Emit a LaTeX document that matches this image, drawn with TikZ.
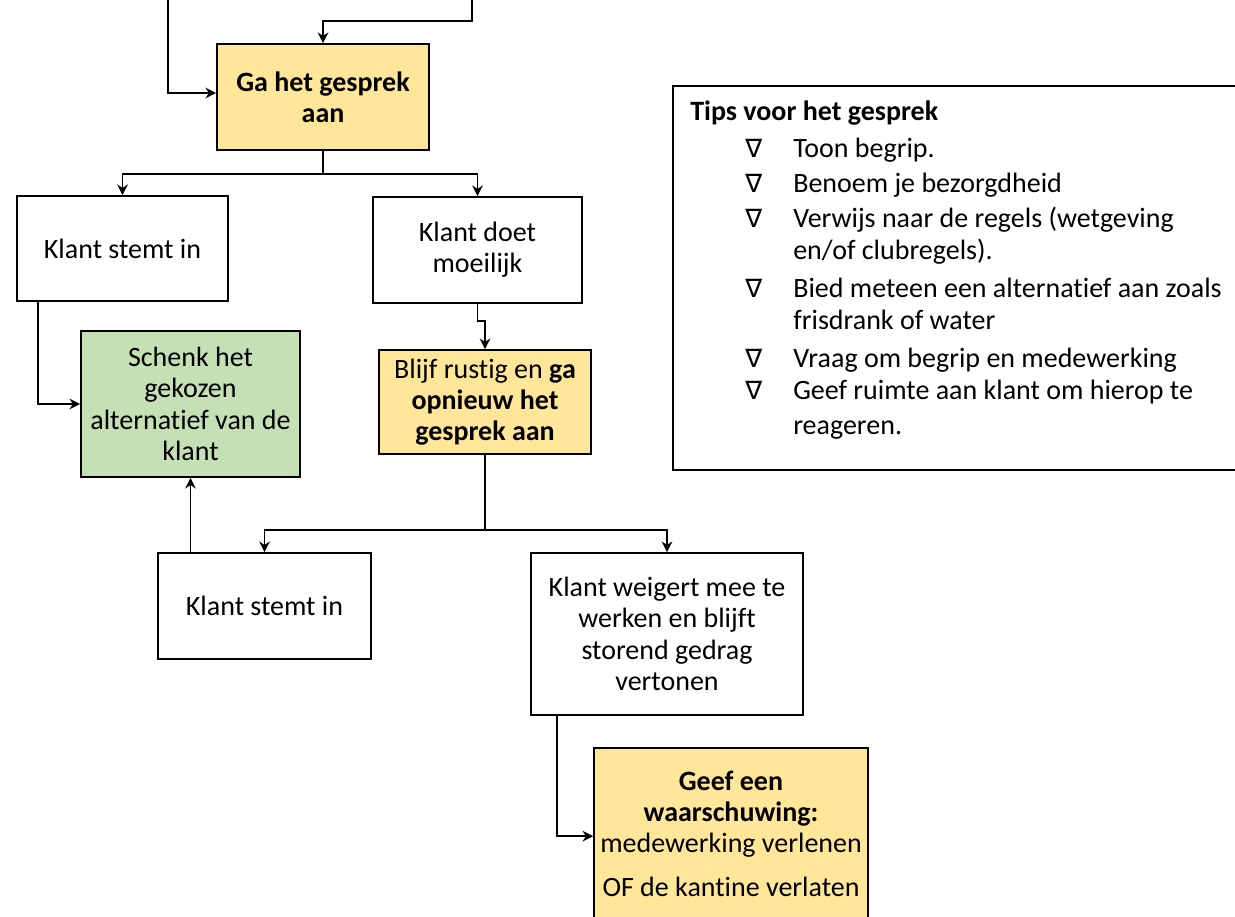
\documentclass[tikz,border=0pt]{standalone}
\usepackage{fontspec}
\setmainfont{Carlito}[Ligatures={NoCommon}]
\newfontfamily\symfont{DejaVu Sans}
\usepackage{xcolor}
\usetikzlibrary{arrows.meta}
\definecolor{stepyellow}{RGB}{255,230,153}
\definecolor{stepgreen}{RGB}{197,224,180}
\tikzset{
  stepbox/.style={draw, line width=1.25pt, align=center, inner sep=0pt, font=\fontsize{21}{23.5}\selectfont},
  flow/.style={line width=1.25pt, -{Stealth[length=8pt,width=8pt]}},
  tiptext/.style={anchor=base west, inner sep=0pt, font=\fontsize{21}{23.5}\selectfont},
}

\begin{document}
\begin{tikzpicture}[x=0.75pt, y=-0.75pt]
  \useasboundingbox (0,0) rectangle (1235,917);
  \clip (0,0) rectangle (1235,917);

  % main flow
  \node[stepbox, fill=stepyellow, minimum width=159pt, minimum height=79.5pt] (start) at (323,97) {\textbf{Ga het gesprek}\\\textbf{aan}};
  \node[stepbox, minimum width=158.25pt, minimum height=78.75pt] (agree1) at (122.5,248.5) {Klant stemt in};
  \node[stepbox, minimum width=156.75pt, minimum height=79.5pt] (difficult) at (477.5,250) {Klant doet\\moeilijk};
  \node[stepbox, fill=stepgreen, minimum width=164.25pt, minimum height=109.5pt] (serve) at (190.5,404) {Schenk het\\gekozen\\alternatief van de\\klant};
  \node[stepbox, fill=stepyellow, minimum width=159pt, minimum height=78pt] (calm) at (485,402) {Blijf rustig en \textbf{ga}\\\textbf{opnieuw het}\\\textbf{gesprek aan}};
  \node[stepbox, minimum width=159.75pt, minimum height=79.5pt] (agree2) at (264.5,606) {Klant stemt in};
  \node[stepbox, minimum width=204pt, minimum height=121.5pt] (refuse) at (667,634) {Klant weigert mee te\\werken en blijft\\storend gedrag\\vertonen};
  \node[stepbox, fill=stepyellow, minimum width=205.5pt, minimum height=128.25pt] (warn) at (731,833.5) {\textbf{Geef een}\\\textbf{waarschuwing:}\\medewerking verlenen\\[9pt]OF de kantine verlaten};

  % incoming lines from above
  \coordinate (inleft) at (168,-5);
  \coordinate (inright) at (472,-5);
  \coordinate (split1) at (323,174);
  \coordinate (split2) at (485,530);

  \draw[flow] (inleft) |- ([yshift=3pt]start.west);
  \draw[flow] (inright) -- ++(0,26) -| (start.north);
  \draw[line width=1.25pt] (start.south) -- (split1);
  \draw[flow] (split1) -| (agree1.north);
  \draw[flow] (split1) -| (difficult.north);
  \draw[flow] (agree1.south west) ++(22,0) |- (serve.west);
  \draw[flow] (difficult.south) -- ++(0,17) -| (calm.north);
  \draw[line width=1.25pt] (calm.south) -- (split2);
  \draw[flow] (split2) -| (agree2.north);
  \draw[flow] (split2) -| (refuse.north);
  \draw[flow] (agree2.north -| serve.south) -- (serve.south);
  \draw[flow] (refuse.south west) ++(27,0) |- ([yshift=-2pt]warn.west);

  % tips
  \node[draw, line width=1.25pt, minimum width=432.75pt, minimum height=288pt, inner sep=0pt] (tips) at (961.5,278) {};
  \node[tiptext, font=\bfseries\fontsize{21}{23.5}\selectfont] (tiptitle) at (690,120) {Tips voor het gesprek};
  \foreach \i/\y in {1/157, 2/192, 3/227, 4/297, 5/367, 6/399}
    \node[tiptext, font=\symfont\fontsize{19}{20}\selectfont] (bullet\i) at (745,\y) {∇};
  \foreach \i/\y/\txt in {1/157/{Toon begrip.}, 2/192/{Benoem je bezorgdheid}, 3/227/{Verwijs naar de regels (wetgeving}, 4/259/{en/of clubregels).}, 5/297/{Bied meteen een alternatief aan zoals}, 6/329/{frisdrank of water}, 7/367/{Vraag om begrip en medewerking}, 8/399/{Geef ruimte aan klant om hierop te}, 9/434/{reageren.}}
    \node[tiptext] (tipline\i) at (793,\y) {\txt};
\end{tikzpicture}
\end{document}
